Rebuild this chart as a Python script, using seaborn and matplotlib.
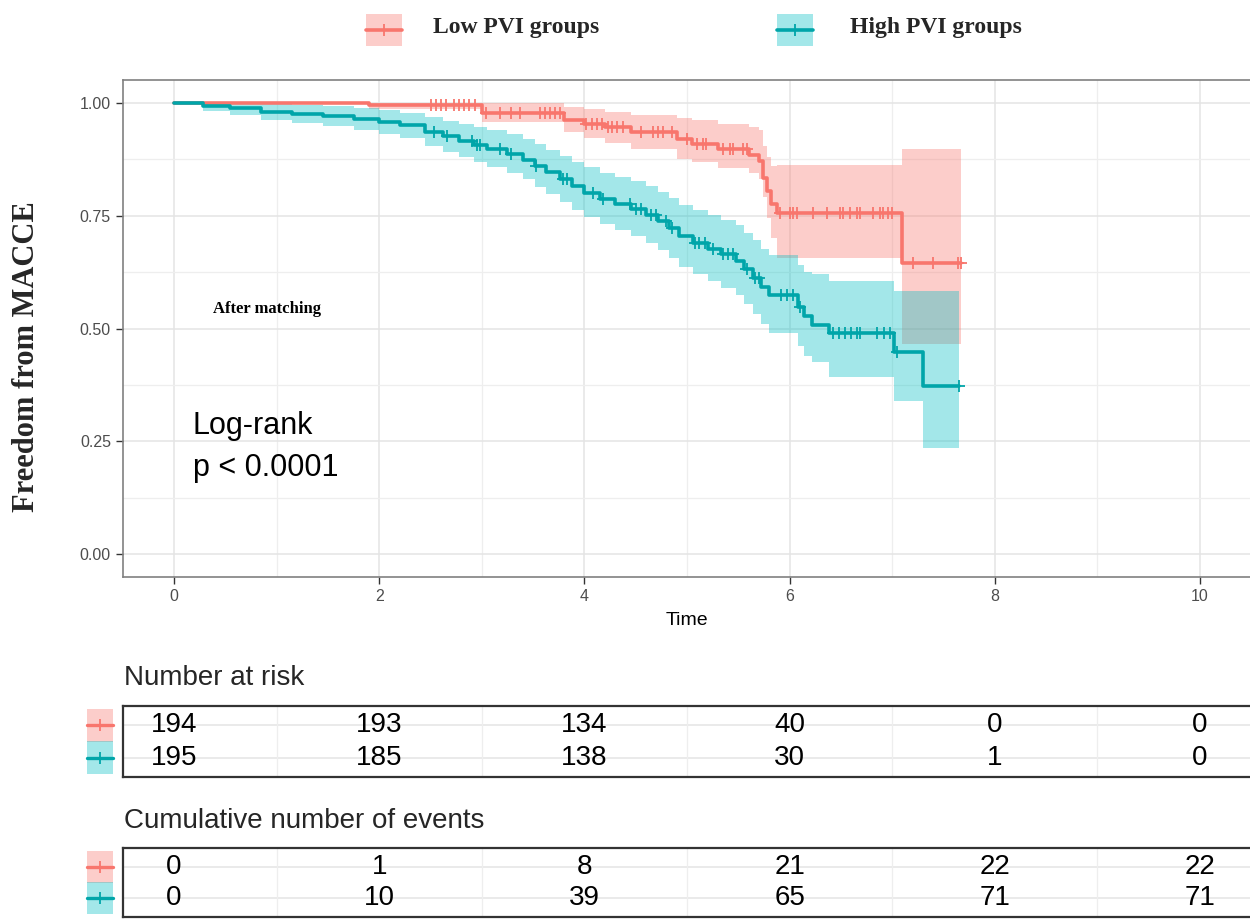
import numpy as np
import pandas as pd
import matplotlib
matplotlib.use("Agg")
import matplotlib.pyplot as plt
import matplotlib.transforms as mtransforms
from matplotlib.patches import Rectangle
from matplotlib.lines import Line2D
from matplotlib.ticker import MultipleLocator, FormatStrFormatter
from matplotlib import font_manager
import seaborn as sns

# ---------------- data ----------------
groups = ["Low PVI groups", "High PVI groups"]

low_time = [0.00, 1.90, 3.00, 3.80, 4.00, 4.20, 4.45, 4.90, 5.05, 5.30, 5.60, 5.70, 5.74, 5.78, 5.82, 5.88, 7.10]
low_surv = [1.000, 0.995, 0.977, 0.962, 0.953, 0.945, 0.935, 0.920, 0.909, 0.898, 0.883, 0.870, 0.834, 0.805, 0.776, 0.755, 0.645]
low_lower = [1.000, 0.985, 0.956, 0.935, 0.922, 0.911, 0.898, 0.876, 0.868, 0.856, 0.845, 0.830, 0.790, 0.745, 0.700, 0.656, 0.465]
low_upper = [1.000, 1.000, 0.998, 0.990, 0.985, 0.979, 0.973, 0.965, 0.962, 0.953, 0.945, 0.940, 0.905, 0.880, 0.860, 0.862, 0.898]
low_end = 7.67
low_censor = [2.50, 2.55, 2.60, 2.65, 2.73, 2.78, 2.83, 2.88, 2.93, 3.04, 3.18, 3.28, 3.37, 3.57, 3.62,
              3.66, 3.71, 3.76, 4.02, 4.07, 4.12, 4.17, 4.23, 4.27, 4.32, 4.38, 4.55, 4.67, 4.72, 4.77,
              4.85, 5.00, 5.10, 5.16, 5.19, 5.35, 5.42, 5.45, 5.55, 5.58, 5.91, 6.00, 6.03, 6.07, 6.23,
              6.36, 6.49, 6.52, 6.59, 6.66, 6.69, 6.81, 6.88, 6.91, 6.96, 7.00, 7.20, 7.40, 7.64, 7.67]

high_time = [0.00, 0.28, 0.55, 0.85, 1.15, 1.45, 1.75, 2.00, 2.20, 2.45, 2.62, 2.78, 2.92, 3.05, 3.25,
             3.40, 3.52, 3.63, 3.76, 3.88, 4.00, 4.15, 4.30, 4.45, 4.60, 4.72, 4.82, 4.92, 5.06, 5.20,
             5.33, 5.48, 5.56, 5.64, 5.72, 5.80, 6.08, 6.14, 6.22, 6.38, 7.02, 7.30]
high_surv = [1.000, 0.993, 0.987, 0.980, 0.975, 0.970, 0.963, 0.957, 0.950, 0.935, 0.925, 0.915, 0.907,
             0.898, 0.886, 0.874, 0.860, 0.846, 0.830, 0.815, 0.800, 0.787, 0.776, 0.765, 0.752, 0.738,
             0.722, 0.705, 0.690, 0.677, 0.664, 0.650, 0.632, 0.612, 0.592, 0.575, 0.548, 0.528, 0.508,
             0.490, 0.447, 0.372]
high_lower = [1.000, 0.981, 0.972, 0.962, 0.955, 0.948, 0.939, 0.931, 0.922, 0.903, 0.891, 0.879, 0.869,
              0.858, 0.844, 0.830, 0.814, 0.798, 0.780, 0.763, 0.746, 0.731, 0.718, 0.705, 0.690, 0.674,
              0.656, 0.637, 0.620, 0.605, 0.590, 0.574, 0.554, 0.532, 0.510, 0.490, 0.462, 0.440, 0.425,
              0.392, 0.340, 0.235]
high_upper = [1.000, 1.000, 1.000, 0.998, 0.995, 0.992, 0.987, 0.983, 0.978, 0.968, 0.960, 0.952, 0.946,
              0.940, 0.930, 0.920, 0.908, 0.896, 0.882, 0.869, 0.857, 0.845, 0.836, 0.826, 0.815, 0.803,
              0.789, 0.774, 0.762, 0.751, 0.740, 0.728, 0.712, 0.695, 0.677, 0.662, 0.640, 0.625, 0.620,
              0.605, 0.583, 0.583]
high_end = 7.65
high_censor = [2.53, 2.66, 2.90, 2.95, 2.98, 3.18, 3.28, 3.53, 3.79, 3.83, 4.08, 4.18, 4.44, 4.50, 4.55,
               4.65, 4.70, 4.80, 4.85, 5.08, 5.12, 5.18, 5.25, 5.35, 5.40, 5.45, 5.58, 5.66, 5.70, 5.92,
               5.97, 6.03, 6.10, 6.42, 6.48, 6.54, 6.60, 6.66, 6.69, 6.85, 6.92, 6.98, 7.05, 7.65]

table_times = [0, 2, 4, 6, 8, 10]
low_at_risk = [194, 193, 134, 40, 0, 0]
high_at_risk = [195, 185, 138, 30, 1, 0]
low_events = [0, 1, 8, 21, 22, 22]
high_events = [0, 10, 39, 65, 71, 71]

pvalue_text = "Log-rank\np < 0.0001"

# ---------------- styling ----------------
line_colors = {groups[0]: "#F8766D", groups[1]: "#00A5A9"}
band_colors = {groups[0]: "#F8766D", groups[1]: "#00BFC4"}

sns.set_theme(style="white")
names = {f.name for f in font_manager.fontManager.ttflist}
narrow = "Liberation Sans Narrow" if "Liberation Sans Narrow" in names else "Liberation Sans"
plt.rcParams["font.family"] = ["Liberation Sans", "DejaVu Sans"]
serif = ["Liberation Serif", "DejaVu Serif"]

W, H = 1250, 924
fig = plt.figure(figsize=(W / 100, H / 100), dpi=100)
fig.patch.set_facecolor("white")


def fax(l, t, r, b):
    return fig.add_axes([l / W, 1 - b / H, (r - l) / W, (b - t) / H])


def fx(px):
    return px / W


def fy(py):
    return 1 - py / H


# ---------------- main KM plot ----------------
ax = fax(122.7, 80, 1251.3, 577)
ax.set_facecolor("white")

curve_sets = [
    (groups[0], low_time, low_surv, low_lower, low_upper, low_end, low_censor),
    (groups[1], high_time, high_surv, high_lower, high_upper, high_end, high_censor),
]

frames, cframes = [], []
for g, t, s, lo, hi, end, cen in curve_sets:
    t_ext = list(t) + [end]
    s_ext = list(s) + [s[-1]]
    lo_ext = list(lo) + [lo[-1]]
    hi_ext = list(hi) + [hi[-1]]
    ax.fill_between(t_ext, lo_ext, hi_ext, step="post", color=band_colors[g],
                    alpha=0.36, lw=0, zorder=2)
    frames.append(pd.DataFrame({"time": t_ext, "surv": s_ext, "group": g}))
    idx = np.searchsorted(np.array(t), np.array(cen), side="right") - 1
    cframes.append(pd.DataFrame({"time": cen, "surv": np.array(s)[idx], "group": g}))

curves = pd.concat(frames, ignore_index=True)
censors = pd.concat(cframes, ignore_index=True)

sns.lineplot(data=curves, x="time", y="surv", hue="group", palette=line_colors,
             drawstyle="steps-post", estimator=None, sort=False, lw=2.6,
             legend=False, ax=ax, zorder=3)
sns.scatterplot(data=censors, x="time", y="surv", hue="group", palette=line_colors,
                marker="+", s=75, linewidth=1.3, legend=False, ax=ax, zorder=4)

ax.set_xlim(-0.5, 10.5)
ax.set_ylim(-0.05, 1.05)
ax.xaxis.set_major_locator(MultipleLocator(2))
ax.xaxis.set_minor_locator(MultipleLocator(1))
ax.yaxis.set_major_locator(MultipleLocator(0.25))
ax.yaxis.set_minor_locator(MultipleLocator(0.125))
ax.yaxis.set_major_formatter(FormatStrFormatter("%.2f"))
ax.grid(which="major", color="#E4E4E4", lw=1.1)
ax.grid(which="minor", color="#EEEEEE", lw=0.9)
ax.set_axisbelow(True)
for sp in ax.spines.values():
    sp.set_color("#808080")
    sp.set_linewidth(1.2)
ax.tick_params(axis="both", which="major", length=5, width=1.0, color="#333333",
               labelcolor="#4D4D4D", labelsize=11.5, bottom=True, left=True)
ax.tick_params(axis="both", which="minor", length=0)
ax.set_xlabel("Time", fontsize=14, color="black", labelpad=6)
ax.set_ylabel("")

ax.text(0.38, 0.543, "After matching", ha="left", va="center", fontsize=12,
        family=serif, weight="bold", color="black")
ax.text(0.185, 0.238, pvalue_text, ha="left", va="center", fontsize=22,
        linespacing=1.55, color="black")

fig.text(fx(27), fy(357), "Freedom from MACCE", rotation=90, ha="center", va="center",
         fontsize=22, family=serif, weight="bold")

# ---------------- top legend ----------------
for g, kx, tx in [(groups[0], 366, 433), (groups[1], 777, 850)]:
    fig.add_artist(Rectangle((fx(kx), fy(46)), fx(36), 32 / H, transform=fig.transFigure,
                             facecolor=band_colors[g], alpha=0.36, lw=0))
    fig.add_artist(Line2D([fx(kx), fx(kx + 36)], [fy(30), fy(30)], transform=fig.transFigure,
                          color=line_colors[g], lw=2.6))
    fig.add_artist(Line2D([fx(kx + 18)], [fy(30)], transform=fig.transFigure,
                          color=line_colors[g], marker="+", markersize=9, mew=1.3, lw=0))
    fig.text(fx(tx), fy(28), g, ha="left", va="center", fontsize=17,
             family=serif, weight="bold")


# ---------------- tables ----------------
def draw_table(top, bottom, title, title_y, low_vals, high_vals):
    tax = fax(122.7, top, 1251.3, bottom)
    tax.set_xlim(-0.5, 10.5)
    tax.set_ylim(0.4, 2.6)
    tax.set_facecolor("white")
    for yv in [1, 2]:
        tax.axhline(yv, color="#E6E6E6", lw=1.2, zorder=0)
    for xv in [1, 3, 5, 7, 9]:
        tax.axvline(xv, color="#EEEEEE", lw=0.9, zorder=0)
    tab = pd.DataFrame({
        "time": table_times * 2,
        "row": [2] * len(table_times) + [1] * len(table_times),
        "value": list(low_vals) + list(high_vals),
    })
    for _, r in tab.iterrows():
        tax.text(r["time"], r["row"], str(int(r["value"])), ha="center", va="center",
                 fontsize=20, family=[narrow, "DejaVu Sans"], color="black")
    tax.set_xticks([])
    tax.set_yticks([])
    for sp in tax.spines.values():
        sp.set_color("#333333")
        sp.set_linewidth(1.6)
    trans = mtransforms.blended_transform_factory(fig.transFigure, tax.transData)
    for g, yv in [(groups[0], 2), (groups[1], 1)]:
        fig.add_artist(Rectangle((fx(87), yv - 0.52), fx(26), 1.04, transform=trans,
                                 facecolor=band_colors[g], alpha=0.36, lw=0))
        fig.add_artist(Line2D([fx(87), fx(113)], [yv, yv], transform=trans,
                              color=line_colors[g], lw=2.4))
        fig.add_artist(Line2D([fx(100)], [yv], transform=trans, color=line_colors[g],
                              marker="+", markersize=9, mew=1.3, lw=0))
    fig.text(fx(124), fy(title_y), title, ha="left", va="center", fontsize=20)
    return tax


draw_table(706, 777, "Number at risk", 678, low_at_risk, high_at_risk)
draw_table(848, 917, "Cumulative number of events", 821, low_events, high_events)

fig.savefig("out.png", dpi=100, facecolor="white")
